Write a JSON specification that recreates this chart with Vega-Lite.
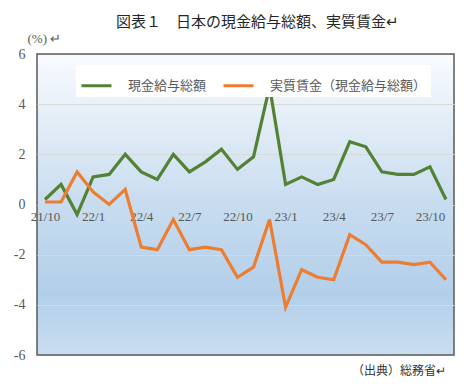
{
  "$schema": "https://vega.github.io/schema/vega-lite/v6.json",
  "width": 417,
  "height": 301,
  "autosize": {"type": "none"},
  "padding": {"left": 37, "top": 54, "right": 17, "bottom": 37},
  "background": "white",
  "title": {
    "text": "図表１　日本の現金給与総額、実質賃金↵",
    "font": "Noto Sans CJK JP",
    "fontSize": 15,
    "fontWeight": "normal",
    "color": "#262626",
    "anchor": "middle",
    "frame": "group",
    "dx": 12,
    "offset": 2
  },
  "config": {
    "view": {
      "stroke": "#595959",
      "strokeWidth": 1.5,
      "fill": {
        "gradient": "linear",
        "x1": 0, "y1": 0, "x2": 0, "y2": 1,
        "stops": [
          {"offset": 0, "color": "#f9fbfe"},
          {"offset": 0.5, "color": "#c8dcef"},
          {"offset": 0.8, "color": "#b2cfea"},
          {"offset": 1, "color": "#c9ddf0"}
        ]
      }
    }
  },
  "layer": [
    {
      "data": {
        "values": [
          {"m": "21/10", "s": "現金給与総額", "v": 0.2},
          {"m": "21/11", "s": "現金給与総額", "v": 0.8},
          {"m": "21/12", "s": "現金給与総額", "v": -0.4},
          {"m": "22/1", "s": "現金給与総額", "v": 1.1},
          {"m": "22/2", "s": "現金給与総額", "v": 1.2},
          {"m": "22/3", "s": "現金給与総額", "v": 2.0},
          {"m": "22/4", "s": "現金給与総額", "v": 1.3},
          {"m": "22/5", "s": "現金給与総額", "v": 1.0},
          {"m": "22/6", "s": "現金給与総額", "v": 2.0},
          {"m": "22/7", "s": "現金給与総額", "v": 1.3},
          {"m": "22/8", "s": "現金給与総額", "v": 1.7},
          {"m": "22/9", "s": "現金給与総額", "v": 2.2},
          {"m": "22/10", "s": "現金給与総額", "v": 1.4},
          {"m": "22/11", "s": "現金給与総額", "v": 1.9},
          {"m": "22/12", "s": "現金給与総額", "v": 4.7},
          {"m": "23/1", "s": "現金給与総額", "v": 0.8},
          {"m": "23/2", "s": "現金給与総額", "v": 1.1},
          {"m": "23/3", "s": "現金給与総額", "v": 0.8},
          {"m": "23/4", "s": "現金給与総額", "v": 1.0},
          {"m": "23/5", "s": "現金給与総額", "v": 2.5},
          {"m": "23/6", "s": "現金給与総額", "v": 2.3},
          {"m": "23/7", "s": "現金給与総額", "v": 1.3},
          {"m": "23/8", "s": "現金給与総額", "v": 1.2},
          {"m": "23/9", "s": "現金給与総額", "v": 1.2},
          {"m": "23/10", "s": "現金給与総額", "v": 1.5},
          {"m": "23/11", "s": "現金給与総額", "v": 0.2},
          {"m": "21/10", "s": "実質賃金（現金給与総額）", "v": 0.1},
          {"m": "21/11", "s": "実質賃金（現金給与総額）", "v": 0.1},
          {"m": "21/12", "s": "実質賃金（現金給与総額）", "v": 1.3},
          {"m": "22/1", "s": "実質賃金（現金給与総額）", "v": 0.5},
          {"m": "22/2", "s": "実質賃金（現金給与総額）", "v": 0.0},
          {"m": "22/3", "s": "実質賃金（現金給与総額）", "v": 0.6},
          {"m": "22/4", "s": "実質賃金（現金給与総額）", "v": -1.7},
          {"m": "22/5", "s": "実質賃金（現金給与総額）", "v": -1.8},
          {"m": "22/6", "s": "実質賃金（現金給与総額）", "v": -0.6},
          {"m": "22/7", "s": "実質賃金（現金給与総額）", "v": -1.8},
          {"m": "22/8", "s": "実質賃金（現金給与総額）", "v": -1.7},
          {"m": "22/9", "s": "実質賃金（現金給与総額）", "v": -1.8},
          {"m": "22/10", "s": "実質賃金（現金給与総額）", "v": -2.9},
          {"m": "22/11", "s": "実質賃金（現金給与総額）", "v": -2.5},
          {"m": "22/12", "s": "実質賃金（現金給与総額）", "v": -0.6},
          {"m": "23/1", "s": "実質賃金（現金給与総額）", "v": -4.1},
          {"m": "23/2", "s": "実質賃金（現金給与総額）", "v": -2.6},
          {"m": "23/3", "s": "実質賃金（現金給与総額）", "v": -2.9},
          {"m": "23/4", "s": "実質賃金（現金給与総額）", "v": -3.0},
          {"m": "23/5", "s": "実質賃金（現金給与総額）", "v": -1.2},
          {"m": "23/6", "s": "実質賃金（現金給与総額）", "v": -1.6},
          {"m": "23/7", "s": "実質賃金（現金給与総額）", "v": -2.3},
          {"m": "23/8", "s": "実質賃金（現金給与総額）", "v": -2.3},
          {"m": "23/9", "s": "実質賃金（現金給与総額）", "v": -2.4},
          {"m": "23/10", "s": "実質賃金（現金給与総額）", "v": -2.3},
          {"m": "23/11", "s": "実質賃金（現金給与総額）", "v": -3.0}
        ]
      },
      "mark": {"type": "line", "strokeWidth": 3.2},
      "encoding": {
        "x": {
          "field": "m",
          "type": "ordinal",
          "sort": null,
          "scale": {"type": "point", "padding": 0.5},
          "axis": {
            "values": ["21/10", "22/1", "22/4", "22/7", "22/10", "23/1", "23/4", "23/7", "23/10"],
            "offset": -150.5,
            "domain": false,
            "ticks": false,
            "grid": false,
            "labelAngle": 0,
            "labelFont": "Liberation Serif",
            "labelFontSize": 13,
            "labelColor": "#595959",
            "labelPadding": 6,
            "title": null
          }
        },
        "y": {
          "field": "v",
          "type": "quantitative",
          "scale": {"domain": [-6, 6], "nice": false},
          "axis": {
            "values": [-6, -4, -2, 0, 2, 4, 6],
            "labelExpr": "datum.value + ''",
            "domain": false,
            "ticks": false,
            "grid": true,
            "gridColor": "#d9d9d9",
            "gridOpacity": {"condition": {"test": "abs(datum.value) == 6", "value": 0}, "value": 1},
            "labelFont": "Liberation Serif",
            "labelFontSize": 14,
            "labelColor": "#595959",
            "labelPadding": 12,
            "title": "(%) ↵",
            "titleAngle": 0,
            "titleX": -10,
            "titleY": -16,
            "titleAlign": "left",
            "titleBaseline": "middle",
            "titleFont": "Liberation Serif",
            "titleFontSize": 13,
            "titleFontWeight": "normal",
            "titleColor": "#595959"
          }
        },
        "color": {
          "field": "s",
          "type": "nominal",
          "scale": {
            "domain": ["現金給与総額", "実質賃金（現金給与総額）"],
            "range": ["#548235", "#ed7d31"]
          },
          "legend": {
            "orient": "none",
            "legendX": 39,
            "legendY": 11,
            "direction": "horizontal",
            "fillColor": "white",
            "padding": 4,
            "symbolType": "stroke",
            "symbolSize": 900,
            "symbolStrokeWidth": 3,
            "labelFont": "Noto Sans CJK JP",
            "labelFontSize": 13,
            "labelColor": "#595959",
            "labelOffset": 15,
            "labelLimit": 300,
            "columnPadding": 10,
            "title": null
          }
        }
      }
    },
    {
      "data": {"values": [{"t": "（出典）総務省↵"}]},
      "mark": {
        "type": "text",
        "align": "right",
        "baseline": "middle",
        "dy": 16,
        "font": "Noto Sans CJK JP",
        "fontSize": 12,
        "color": "#333333"
      },
      "encoding": {
        "x": {"datum": "23/11", "type": "ordinal"},
        "y": {"datum": -6, "type": "quantitative"},
        "text": {"field": "t"}
      }
    }
  ]
}
